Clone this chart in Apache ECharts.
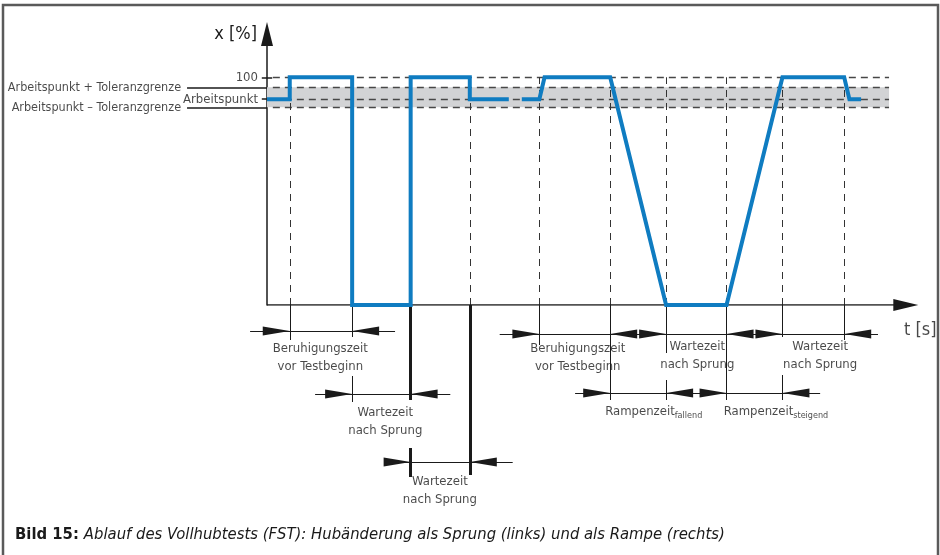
<!DOCTYPE html>
<html>
<head>
<meta charset="utf-8">
<script src="https://cdn.jsdelivr.net/npm/echarts@6/dist/echarts.min.js"></script>
<style>
html, body { margin: 0; background: #fff; }
#main { width: 940px; height: 555px; }
</style>
</head>
<body>
<div id="main"></div>
<script>
// Hubverlauf: Zeit t (willkuerliche Einheiten), Hub x in %
var signalT = [0, 3.5, 3.5, 13.1, 13.1, 22.1, 22.1, 31.2, 31.2, 37.2, null, 39.2, 41.9, 42.7, 52.8, 61.4, 70.7, 79.3, 88.8, 89.6, 91.4];
var signalX = [90.4, 90.4, 100, 100, 0, 0, 100, 100, 90.4, 90.4, null, 90.4, 90.4, 100, 100, 0, 0, 100, 100, 90.4, 90.4];

// Niveaus: 100 %, obere Toleranz, Arbeitspunkt, untere Toleranz
var hLevels = [100, 95.6, 90.4, 86.8];
var bandLevels = [86.8, 95.6];
var hEnd = 95.7;
var yTickVals = [90.4, 100];
var yTickText = ['Arbeitspunkt', '100'];
var leftLabels = [['Arbeitspunkt + Toleranzgrenze', -12.3, 95.6], ['Arbeitspunkt \u2013 Toleranzgrenze', -12.3, 86.8]];

// senkrechte Hilfslinien (Zeitpunkte)
var eventT = [3.5, 13.1, 22.1, 31.2, 41.9, 52.8, 61.4, 70.7, 79.3, 88.8];

// Bemassung unter der Zeitachse: [von, bis, Tiefe]
var dimRows = [[-2.6, 19.7, 26], [7.4, 28.2, 89], [18.2, 37.8, 157], [35.8, 94.0, 29], [47.4, 85.1, 88]];
// Pfeilspitzen: [t, Tiefe, Richtung]
var arrowTips = [[3.5, 26, 1], [13.1, 26, -1], [13.1, 89, 1], [22.1, 89, -1], [22.1, 157, 1], [31.2, 157, -1],
  [41.9, 29, 1], [52.8, 29, -1], [61.4, 29, 1], [70.7, 29, -1], [79.3, 29, 1], [88.8, 29, -1],
  [52.8, 88, 1], [61.4, 88, -1], [70.7, 88, 1], [79.3, 88, -1]];
// Massgrenzlinien: [t, von, bis]
var extThin = [[3.5, 0, 35], [13.1, 0, 32], [13.1, 71, 97], [41.9, 0, 40], [52.8, 0, 95], [61.4, 0, 48], [61.4, 75, 95],
  [70.7, 0, 95], [79.3, 0, 32], [79.3, 70, 95], [88.8, 0, 35]];
var extThick = [[22.1, 0, 95], [22.1, 143, 172], [31.2, 0, 170]];
// Beschriftungen: [Text, t, Tiefe]
var dimLabels = [['Beruhigungszeit\nvor Testbeginn', 8.2, 53], ['Wartezeit\nnach Sprung', 18.2, 117], ['Wartezeit\nnach Sprung', 26.6, 186],
  ['Beruhigungszeit\nvor Testbeginn', 47.8, 53], ['Wartezeit\nnach Sprung', 66.2, 51], ['Wartezeit\nnach Sprung', 85.1, 51],
  ['{m|Rampenzeit}{s|fallend}', 59.5, 107], ['{m|Rampenzeit}{s|steigend}', 78.3, 107], ['{n|t [s]}', 100.5, 25]];
var xAxisEnd = [0, 97, 100.2];

var FONT = '"Liberation Sans Narrow", "DejaVu Sans Condensed", "Liberation Sans", sans-serif';
var INK = '#1a1a1a';
var BLUE = '#0f7cc1';

var signalData = [];
for (var i = 0; i < signalT.length; i++) {
  signalData.push(signalT[i] == null ? ['-', '-'] : [signalT[i], signalX[i]]);
}

function arrowRenderer(len, half, color) {
  return function (params, api) {
    var tip = api.coord([api.value(0), api.value(1)]);
    var dir = api.value(2);
    return {
      type: 'polygon',
      shape: { points: [tip, [tip[0] - dir * len, tip[1] - half], [tip[0] - dir * len, tip[1] + half]] },
      style: { fill: color }
    };
  };
}

var myChart = echarts.init(document.getElementById('main'));
var option = {
  animation: false,
  title: {
    left: 10, top: 521, z: 200,
    text: '{b|Bild 15:} {i|Ablauf des Vollhubtests (FST): Hub\u00e4nderung als Sprung (links) und als Rampe (rechts)}',
    textStyle: {
      fontWeight: 'normal',
      rich: {
        b: { fontFamily: FONT, fontWeight: 'bold', fontSize: 16.5, color: INK },
        i: { fontFamily: FONT, fontStyle: 'italic', fontWeight: 'normal', fontSize: 16.5, color: INK }
      }
    }
  },
  graphic: [
    { type: 'rect', z: 100, shape: { x: 4, y: 506, width: 932, height: 49 }, style: { fill: '#fff' } },
    { type: 'polyline', z: 101, shape: { points: [[3, 555], [3, 5], [938, 5], [938, 555]] }, style: { stroke: '#5a5a5a', lineWidth: 2.5, fill: null } }
  ],
  grid: [
    { left: 7, right: 23, top: 34, bottom: 250, containLabel: false, outerBoundsMode: 'none' },
    { left: 7, right: 23, top: 305, bottom: 0, containLabel: false, outerBoundsMode: 'none' }
  ],
  xAxis: [
    { gridIndex: 0, type: 'value', min: -40, max: 100, axisLine: { show: false }, axisTick: { show: false }, axisLabel: { show: false }, splitLine: { show: false } },
    { gridIndex: 1, type: 'value', min: -40, max: 100, show: false, splitLine: { show: false } }
  ],
  yAxis: [
    {
      gridIndex: 0, type: 'value', min: 0, max: 119,
      name: 'x [%]', nameLocation: 'end', nameGap: 0,
      nameTextStyle: { fontFamily: FONT, fontSize: 18, color: INK, align: 'right', verticalAlign: 'middle', padding: [0, 10, 0, 0] },
      axisLine: { onZero: true, symbol: ['none', 'triangle'], symbolSize: [12, 24], lineStyle: { color: '#1a1a1a', width: 1.5 } },
      axisTick: { show: false },
      axisLabel: { show: false },
      splitLine: { show: false }
    },
    { gridIndex: 1, type: 'value', min: 0, max: 250, inverse: true, show: false, splitLine: { show: false } }
  ],
  series: [
    {
      type: 'custom', xAxisIndex: 0, yAxisIndex: 0, z: 1, silent: true,
      data: [[0, hEnd, bandLevels[0], bandLevels[1]]],
      renderItem: function (params, api) {
        var a = api.coord([api.value(0), api.value(3)]);
        var b = api.coord([api.value(1), api.value(2)]);
        return { type: 'rect', shape: { x: a[0], y: a[1], width: b[0] - a[0], height: b[1] - a[1] }, style: { fill: '#d2d3d5' } };
      }
    },
    {
      type: 'lines', coordinateSystem: 'cartesian2d', xAxisIndex: 0, yAxisIndex: 0, z: 2, silent: true,
      data: hLevels.map(function (v) { return { coords: [[0.9, v], [hEnd, v]] }; }),
      lineStyle: { color: '#474747', width: 1.3, type: [7, 5], opacity: 1 }
    },
    {
      type: 'lines', coordinateSystem: 'cartesian2d', xAxisIndex: 0, yAxisIndex: 0, z: 2, silent: true,
      data: eventT.map(function (t) { return { coords: [[t, 0], [t, 100]] }; }),
      lineStyle: { color: '#333', width: 1, type: [7, 6], opacity: 1 }
    },
    {
      // Toleranz-Hilfslinien links, Skalenstriche, Zeitachse
      type: 'lines', coordinateSystem: 'cartesian2d', xAxisIndex: 0, yAxisIndex: 0, z: 2, silent: true,
      data: leftLabels.map(function (d) { return { coords: [[d[1], d[2]], [0, d[2]]] }; })
        .concat(yTickVals.map(function (v) { return { coords: [[-0.8, v], [0.8, v]] }; }))
        .concat([{ coords: [[xAxisEnd[0], 0], [xAxisEnd[1], 0]] }]),
      lineStyle: { color: '#1a1a1a', width: 1.5, opacity: 1 }
    },
    {
      type: 'custom', xAxisIndex: 0, yAxisIndex: 0, z: 3, silent: true, clip: false,
      data: [[xAxisEnd[2], 0, 1]],
      renderItem: arrowRenderer(25, 6, '#1a1a1a')
    },
    {
      type: 'scatter', xAxisIndex: 0, yAxisIndex: 0, symbolSize: 0, silent: true, clip: false,
      data: leftLabels.map(function (d) { return { name: d[0], value: [d[1], d[2]] }; }),
      label: { show: true, position: 'left', distance: 6, formatter: '{b}', fontFamily: FONT, fontSize: 12.5, color: INK }
    },
    {
      type: 'scatter', xAxisIndex: 0, yAxisIndex: 0, symbolSize: 0, silent: true, clip: false,
      data: yTickVals.map(function (v, k) { return { name: yTickText[k], value: [0, v] }; }),
      label: { show: true, position: 'left', distance: 9, formatter: '{b}', fontFamily: FONT, fontSize: 13, color: INK }
    },
    {
      type: 'line', xAxisIndex: 0, yAxisIndex: 0, z: 4, silent: true,
      data: signalData, showSymbol: false, connectNulls: false,
      lineStyle: { color: BLUE, width: 4, join: 'miter', cap: 'butt' }
    },
    {
      type: 'lines', coordinateSystem: 'cartesian2d', xAxisIndex: 1, yAxisIndex: 1, silent: true,
      data: dimRows.map(function (d) { return { coords: [[d[0], d[2]], [d[1], d[2]]] }; })
        .concat(extThin.map(function (d) { return { coords: [[d[0], d[1]], [d[0], d[2]]] }; })),
      lineStyle: { color: '#1a1a1a', width: 1, opacity: 1 }
    },
    {
      type: 'lines', coordinateSystem: 'cartesian2d', xAxisIndex: 1, yAxisIndex: 1, silent: true,
      data: extThick.map(function (d) { return { coords: [[d[0], d[1]], [d[0], d[2]]] }; }),
      lineStyle: { color: '#1a1a1a', width: 3, opacity: 1 }
    },
    {
      type: 'custom', xAxisIndex: 1, yAxisIndex: 1, silent: true,
      data: arrowTips,
      renderItem: arrowRenderer(27, 4.5, '#1a1a1a')
    },
    {
      type: 'scatter', xAxisIndex: 1, yAxisIndex: 1, symbolSize: 0, silent: true, clip: false,
      data: dimLabels.map(function (d) { return { name: d[0], value: [d[1], d[2]] }; }),
      label: {
        show: true, position: 'inside', formatter: '{b}', align: 'center', verticalAlign: 'middle',
        fontFamily: FONT, fontSize: 13, lineHeight: 18, color: INK,
        rich: {
          m: { fontFamily: FONT, fontSize: 13, color: INK },
          s: { fontFamily: FONT, fontSize: 9, color: INK, padding: [8, 0, 0, 0] },
          n: { fontFamily: FONT, fontSize: 18, color: INK }
        }
      }
    }
  ]
};
myChart.setOption(option);
</script>
</body>
</html>
